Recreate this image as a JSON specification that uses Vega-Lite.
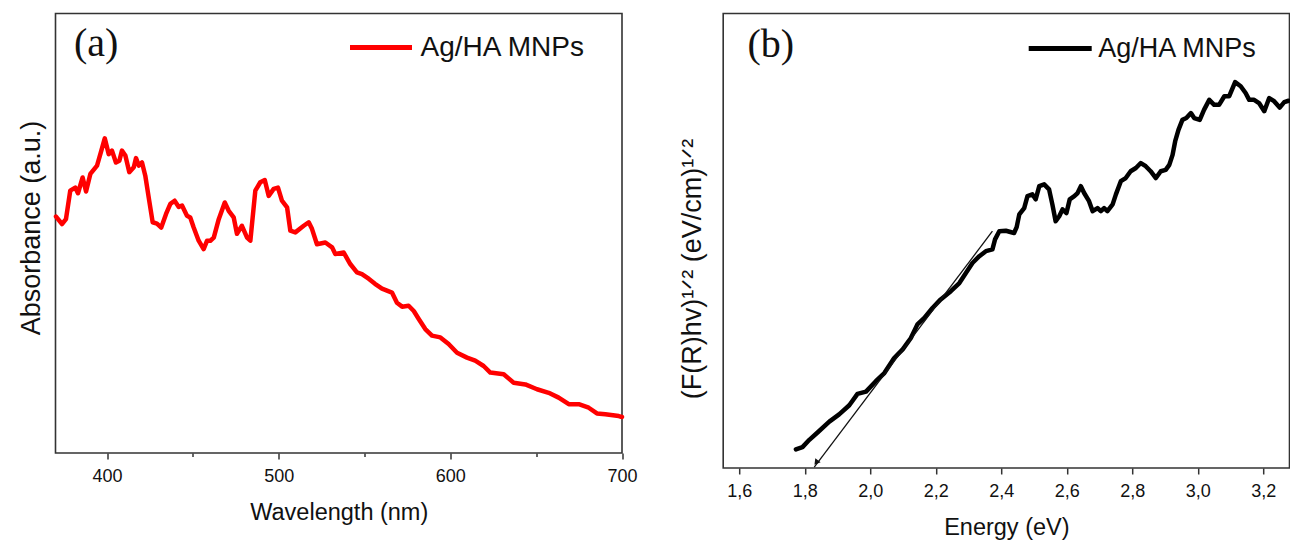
{
  "$schema": "https://vega.github.io/schema/vega-lite/v6.json",
  "background": "white",
  "padding": {"left": 16.5, "top": 12.5, "right": 2, "bottom": 0},
  "bounds": "flush",
  "spacing": 100.7,
  "resolve": {"scale": {"color": "independent"}, "legend": {"color": "independent"}},
  "config": {
    "view": {"stroke": "#333", "strokeWidth": 1.6},
    "font": "Liberation Sans",
    "axis": {"grid": false, "domain": false, "labelFontSize": 18, "labelColor": "#111", "titleFontSize": 23.5, "titleFontWeight": "normal", "titleColor": "#111", "tickColor": "#333", "tickWidth": 1.5, "labelPadding": 8, "titlePadding": 15, "labelFlush": false},
    "axisY": {"labels": false, "ticks": false, "titleFontSize": 27}
  },
  "datasets": {
    "abs": [
      {"wavelength": 370.3, "absorbance": 53.8, "series": "Ag/HA MNPs"},
      {"wavelength": 373.8, "absorbance": 52.1, "series": "Ag/HA MNPs"},
      {"wavelength": 376.1, "absorbance": 53.2, "series": "Ag/HA MNPs"},
      {"wavelength": 378.6, "absorbance": 59.7, "series": "Ag/HA MNPs"},
      {"wavelength": 381.5, "absorbance": 60.4, "series": "Ag/HA MNPs"},
      {"wavelength": 383.1, "absorbance": 59.1, "series": "Ag/HA MNPs"},
      {"wavelength": 385.8, "absorbance": 62.7, "series": "Ag/HA MNPs"},
      {"wavelength": 387.8, "absorbance": 59.5, "series": "Ag/HA MNPs"},
      {"wavelength": 390.3, "absorbance": 63.5, "series": "Ag/HA MNPs"},
      {"wavelength": 394.2, "absorbance": 65.4, "series": "Ag/HA MNPs"},
      {"wavelength": 396.7, "absorbance": 68.8, "series": "Ag/HA MNPs"},
      {"wavelength": 398.7, "absorbance": 71.6, "series": "Ag/HA MNPs"},
      {"wavelength": 401.0, "absorbance": 68.0, "series": "Ag/HA MNPs"},
      {"wavelength": 402.9, "absorbance": 68.8, "series": "Ag/HA MNPs"},
      {"wavelength": 405.2, "absorbance": 66.1, "series": "Ag/HA MNPs"},
      {"wavelength": 407.2, "absorbance": 66.5, "series": "Ag/HA MNPs"},
      {"wavelength": 408.7, "absorbance": 68.8, "series": "Ag/HA MNPs"},
      {"wavelength": 410.7, "absorbance": 67.7, "series": "Ag/HA MNPs"},
      {"wavelength": 413.0, "absorbance": 63.9, "series": "Ag/HA MNPs"},
      {"wavelength": 415.6, "absorbance": 65.0, "series": "Ag/HA MNPs"},
      {"wavelength": 416.9, "absorbance": 67.1, "series": "Ag/HA MNPs"},
      {"wavelength": 418.5, "absorbance": 65.4, "series": "Ag/HA MNPs"},
      {"wavelength": 420.4, "absorbance": 66.1, "series": "Ag/HA MNPs"},
      {"wavelength": 422.3, "absorbance": 63.1, "series": "Ag/HA MNPs"},
      {"wavelength": 424.6, "absorbance": 57.4, "series": "Ag/HA MNPs"},
      {"wavelength": 426.6, "absorbance": 52.5, "series": "Ag/HA MNPs"},
      {"wavelength": 429.1, "absorbance": 52.2, "series": "Ag/HA MNPs"},
      {"wavelength": 431.6, "absorbance": 51.3, "series": "Ag/HA MNPs"},
      {"wavelength": 434.4, "absorbance": 54.4, "series": "Ag/HA MNPs"},
      {"wavelength": 436.9, "absorbance": 56.7, "series": "Ag/HA MNPs"},
      {"wavelength": 439.4, "absorbance": 57.4, "series": "Ag/HA MNPs"},
      {"wavelength": 441.8, "absorbance": 56.0, "series": "Ag/HA MNPs"},
      {"wavelength": 443.7, "absorbance": 56.3, "series": "Ag/HA MNPs"},
      {"wavelength": 446.6, "absorbance": 54.0, "series": "Ag/HA MNPs"},
      {"wavelength": 448.5, "absorbance": 53.6, "series": "Ag/HA MNPs"},
      {"wavelength": 450.5, "absorbance": 51.3, "series": "Ag/HA MNPs"},
      {"wavelength": 453.4, "absorbance": 48.3, "series": "Ag/HA MNPs"},
      {"wavelength": 456.3, "absorbance": 46.4, "series": "Ag/HA MNPs"},
      {"wavelength": 458.3, "absorbance": 48.3, "series": "Ag/HA MNPs"},
      {"wavelength": 460.2, "absorbance": 48.3, "series": "Ag/HA MNPs"},
      {"wavelength": 462.2, "absorbance": 49.0, "series": "Ag/HA MNPs"},
      {"wavelength": 465.1, "absorbance": 53.2, "series": "Ag/HA MNPs"},
      {"wavelength": 468.6, "absorbance": 57.0, "series": "Ag/HA MNPs"},
      {"wavelength": 470.9, "absorbance": 55.1, "series": "Ag/HA MNPs"},
      {"wavelength": 473.8, "absorbance": 53.6, "series": "Ag/HA MNPs"},
      {"wavelength": 475.7, "absorbance": 49.9, "series": "Ag/HA MNPs"},
      {"wavelength": 478.6, "absorbance": 51.7, "series": "Ag/HA MNPs"},
      {"wavelength": 481.6, "absorbance": 49.0, "series": "Ag/HA MNPs"},
      {"wavelength": 483.5, "absorbance": 48.3, "series": "Ag/HA MNPs"},
      {"wavelength": 486.4, "absorbance": 59.7, "series": "Ag/HA MNPs"},
      {"wavelength": 489.3, "absorbance": 61.6, "series": "Ag/HA MNPs"},
      {"wavelength": 491.9, "absorbance": 62.1, "series": "Ag/HA MNPs"},
      {"wavelength": 494.2, "absorbance": 58.5, "series": "Ag/HA MNPs"},
      {"wavelength": 497.1, "absorbance": 60.1, "series": "Ag/HA MNPs"},
      {"wavelength": 499.6, "absorbance": 60.4, "series": "Ag/HA MNPs"},
      {"wavelength": 501.9, "absorbance": 57.4, "series": "Ag/HA MNPs"},
      {"wavelength": 504.9, "absorbance": 55.9, "series": "Ag/HA MNPs"},
      {"wavelength": 506.8, "absorbance": 50.6, "series": "Ag/HA MNPs"},
      {"wavelength": 509.7, "absorbance": 50.2, "series": "Ag/HA MNPs"},
      {"wavelength": 514.6, "absorbance": 51.7, "series": "Ag/HA MNPs"},
      {"wavelength": 517.5, "absorbance": 52.5, "series": "Ag/HA MNPs"},
      {"wavelength": 519.4, "absorbance": 51.0, "series": "Ag/HA MNPs"},
      {"wavelength": 522.3, "absorbance": 47.5, "series": "Ag/HA MNPs"},
      {"wavelength": 527.2, "absorbance": 47.9, "series": "Ag/HA MNPs"},
      {"wavelength": 531.1, "absorbance": 46.8, "series": "Ag/HA MNPs"},
      {"wavelength": 533.0, "absorbance": 45.3, "series": "Ag/HA MNPs"},
      {"wavelength": 537.9, "absorbance": 45.6, "series": "Ag/HA MNPs"},
      {"wavelength": 541.7, "absorbance": 43.0, "series": "Ag/HA MNPs"},
      {"wavelength": 545.6, "absorbance": 41.1, "series": "Ag/HA MNPs"},
      {"wavelength": 548.5, "absorbance": 40.7, "series": "Ag/HA MNPs"},
      {"wavelength": 552.6, "absorbance": 39.6, "series": "Ag/HA MNPs"},
      {"wavelength": 556.1, "absorbance": 38.5, "series": "Ag/HA MNPs"},
      {"wavelength": 560.2, "absorbance": 37.4, "series": "Ag/HA MNPs"},
      {"wavelength": 566.0, "absorbance": 36.5, "series": "Ag/HA MNPs"},
      {"wavelength": 568.9, "absorbance": 34.2, "series": "Ag/HA MNPs"},
      {"wavelength": 571.9, "absorbance": 33.3, "series": "Ag/HA MNPs"},
      {"wavelength": 575.7, "absorbance": 33.5, "series": "Ag/HA MNPs"},
      {"wavelength": 578.7, "absorbance": 32.3, "series": "Ag/HA MNPs"},
      {"wavelength": 581.6, "absorbance": 30.5, "series": "Ag/HA MNPs"},
      {"wavelength": 585.4, "absorbance": 28.2, "series": "Ag/HA MNPs"},
      {"wavelength": 589.3, "absorbance": 26.7, "series": "Ag/HA MNPs"},
      {"wavelength": 594.2, "absorbance": 26.3, "series": "Ag/HA MNPs"},
      {"wavelength": 599.0, "absorbance": 24.8, "series": "Ag/HA MNPs"},
      {"wavelength": 603.9, "absorbance": 22.8, "series": "Ag/HA MNPs"},
      {"wavelength": 609.7, "absorbance": 21.7, "series": "Ag/HA MNPs"},
      {"wavelength": 614.5, "absorbance": 21.0, "series": "Ag/HA MNPs"},
      {"wavelength": 619.4, "absorbance": 19.8, "series": "Ag/HA MNPs"},
      {"wavelength": 623.3, "absorbance": 18.3, "series": "Ag/HA MNPs"},
      {"wavelength": 631.1, "absorbance": 17.9, "series": "Ag/HA MNPs"},
      {"wavelength": 636.9, "absorbance": 16.0, "series": "Ag/HA MNPs"},
      {"wavelength": 643.7, "absorbance": 15.6, "series": "Ag/HA MNPs"},
      {"wavelength": 650.5, "absorbance": 14.5, "series": "Ag/HA MNPs"},
      {"wavelength": 657.3, "absorbance": 13.7, "series": "Ag/HA MNPs"},
      {"wavelength": 663.1, "absorbance": 12.6, "series": "Ag/HA MNPs"},
      {"wavelength": 669.0, "absorbance": 11.1, "series": "Ag/HA MNPs"},
      {"wavelength": 674.8, "absorbance": 11.1, "series": "Ag/HA MNPs"},
      {"wavelength": 680.6, "absorbance": 10.3, "series": "Ag/HA MNPs"},
      {"wavelength": 685.4, "absorbance": 9.0, "series": "Ag/HA MNPs"},
      {"wavelength": 690.3, "absorbance": 8.8, "series": "Ag/HA MNPs"},
      {"wavelength": 698.1, "absorbance": 8.4, "series": "Ag/HA MNPs"},
      {"wavelength": 700.0, "absorbance": 8.2, "series": "Ag/HA MNPs"}
    ],
    "tauc": [
      {"energy": 1.773, "value": 4.1, "series": "Ag/HA MNPs"},
      {"energy": 1.793, "value": 4.6, "series": "Ag/HA MNPs"},
      {"energy": 1.814, "value": 6.2, "series": "Ag/HA MNPs"},
      {"energy": 1.839, "value": 7.8, "series": "Ag/HA MNPs"},
      {"energy": 1.875, "value": 10.2, "series": "Ag/HA MNPs"},
      {"energy": 1.905, "value": 11.8, "series": "Ag/HA MNPs"},
      {"energy": 1.936, "value": 13.8, "series": "Ag/HA MNPs"},
      {"energy": 1.961, "value": 16.3, "series": "Ag/HA MNPs"},
      {"energy": 1.987, "value": 16.8, "series": "Ag/HA MNPs"},
      {"energy": 2.017, "value": 19.1, "series": "Ag/HA MNPs"},
      {"energy": 2.043, "value": 20.9, "series": "Ag/HA MNPs"},
      {"energy": 2.073, "value": 24.2, "series": "Ag/HA MNPs"},
      {"energy": 2.099, "value": 26.1, "series": "Ag/HA MNPs"},
      {"energy": 2.124, "value": 28.6, "series": "Ag/HA MNPs"},
      {"energy": 2.144, "value": 31.6, "series": "Ag/HA MNPs"},
      {"energy": 2.165, "value": 33.0, "series": "Ag/HA MNPs"},
      {"energy": 2.190, "value": 35.2, "series": "Ag/HA MNPs"},
      {"energy": 2.215, "value": 37.1, "series": "Ag/HA MNPs"},
      {"energy": 2.246, "value": 38.9, "series": "Ag/HA MNPs"},
      {"energy": 2.272, "value": 40.7, "series": "Ag/HA MNPs"},
      {"energy": 2.292, "value": 42.9, "series": "Ag/HA MNPs"},
      {"energy": 2.312, "value": 45.1, "series": "Ag/HA MNPs"},
      {"energy": 2.333, "value": 46.6, "series": "Ag/HA MNPs"},
      {"energy": 2.353, "value": 47.7, "series": "Ag/HA MNPs"},
      {"energy": 2.373, "value": 48.1, "series": "Ag/HA MNPs"},
      {"energy": 2.381, "value": 50.3, "series": "Ag/HA MNPs"},
      {"energy": 2.394, "value": 52.1, "series": "Ag/HA MNPs"},
      {"energy": 2.414, "value": 52.2, "series": "Ag/HA MNPs"},
      {"energy": 2.439, "value": 51.7, "series": "Ag/HA MNPs"},
      {"energy": 2.447, "value": 53.0, "series": "Ag/HA MNPs"},
      {"energy": 2.455, "value": 55.8, "series": "Ag/HA MNPs"},
      {"energy": 2.470, "value": 57.2, "series": "Ag/HA MNPs"},
      {"energy": 2.480, "value": 59.8, "series": "Ag/HA MNPs"},
      {"energy": 2.495, "value": 60.2, "series": "Ag/HA MNPs"},
      {"energy": 2.505, "value": 59.1, "series": "Ag/HA MNPs"},
      {"energy": 2.516, "value": 62.0, "series": "Ag/HA MNPs"},
      {"energy": 2.531, "value": 62.4, "series": "Ag/HA MNPs"},
      {"energy": 2.546, "value": 61.3, "series": "Ag/HA MNPs"},
      {"energy": 2.556, "value": 58.0, "series": "Ag/HA MNPs"},
      {"energy": 2.566, "value": 54.3, "series": "Ag/HA MNPs"},
      {"energy": 2.577, "value": 55.4, "series": "Ag/HA MNPs"},
      {"energy": 2.587, "value": 56.9, "series": "Ag/HA MNPs"},
      {"energy": 2.599, "value": 56.1, "series": "Ag/HA MNPs"},
      {"energy": 2.609, "value": 59.1, "series": "Ag/HA MNPs"},
      {"energy": 2.623, "value": 59.8, "series": "Ag/HA MNPs"},
      {"energy": 2.633, "value": 60.5, "series": "Ag/HA MNPs"},
      {"energy": 2.643, "value": 62.0, "series": "Ag/HA MNPs"},
      {"energy": 2.653, "value": 60.5, "series": "Ag/HA MNPs"},
      {"energy": 2.668, "value": 58.7, "series": "Ag/HA MNPs"},
      {"energy": 2.679, "value": 56.5, "series": "Ag/HA MNPs"},
      {"energy": 2.694, "value": 57.2, "series": "Ag/HA MNPs"},
      {"energy": 2.704, "value": 56.5, "series": "Ag/HA MNPs"},
      {"energy": 2.714, "value": 57.2, "series": "Ag/HA MNPs"},
      {"energy": 2.724, "value": 56.5, "series": "Ag/HA MNPs"},
      {"energy": 2.740, "value": 58.0, "series": "Ag/HA MNPs"},
      {"energy": 2.750, "value": 60.2, "series": "Ag/HA MNPs"},
      {"energy": 2.765, "value": 63.1, "series": "Ag/HA MNPs"},
      {"energy": 2.780, "value": 63.8, "series": "Ag/HA MNPs"},
      {"energy": 2.795, "value": 65.3, "series": "Ag/HA MNPs"},
      {"energy": 2.811, "value": 66.0, "series": "Ag/HA MNPs"},
      {"energy": 2.826, "value": 67.1, "series": "Ag/HA MNPs"},
      {"energy": 2.841, "value": 66.4, "series": "Ag/HA MNPs"},
      {"energy": 2.856, "value": 65.3, "series": "Ag/HA MNPs"},
      {"energy": 2.872, "value": 63.8, "series": "Ag/HA MNPs"},
      {"energy": 2.887, "value": 65.3, "series": "Ag/HA MNPs"},
      {"energy": 2.902, "value": 65.6, "series": "Ag/HA MNPs"},
      {"energy": 2.913, "value": 66.7, "series": "Ag/HA MNPs"},
      {"energy": 2.923, "value": 68.9, "series": "Ag/HA MNPs"},
      {"energy": 2.931, "value": 71.9, "series": "Ag/HA MNPs"},
      {"energy": 2.941, "value": 74.4, "series": "Ag/HA MNPs"},
      {"energy": 2.953, "value": 76.6, "series": "Ag/HA MNPs"},
      {"energy": 2.965, "value": 77.0, "series": "Ag/HA MNPs"},
      {"energy": 2.979, "value": 78.1, "series": "Ag/HA MNPs"},
      {"energy": 2.989, "value": 77.0, "series": "Ag/HA MNPs"},
      {"energy": 3.006, "value": 76.6, "series": "Ag/HA MNPs"},
      {"energy": 3.019, "value": 78.8, "series": "Ag/HA MNPs"},
      {"energy": 3.035, "value": 81.0, "series": "Ag/HA MNPs"},
      {"energy": 3.050, "value": 79.9, "series": "Ag/HA MNPs"},
      {"energy": 3.065, "value": 79.9, "series": "Ag/HA MNPs"},
      {"energy": 3.081, "value": 81.8, "series": "Ag/HA MNPs"},
      {"energy": 3.096, "value": 81.8, "series": "Ag/HA MNPs"},
      {"energy": 3.114, "value": 84.9, "series": "Ag/HA MNPs"},
      {"energy": 3.131, "value": 84.0, "series": "Ag/HA MNPs"},
      {"energy": 3.146, "value": 82.5, "series": "Ag/HA MNPs"},
      {"energy": 3.157, "value": 81.0, "series": "Ag/HA MNPs"},
      {"energy": 3.172, "value": 81.0, "series": "Ag/HA MNPs"},
      {"energy": 3.187, "value": 80.3, "series": "Ag/HA MNPs"},
      {"energy": 3.203, "value": 78.5, "series": "Ag/HA MNPs"},
      {"energy": 3.218, "value": 81.4, "series": "Ag/HA MNPs"},
      {"energy": 3.233, "value": 80.7, "series": "Ag/HA MNPs"},
      {"energy": 3.250, "value": 79.3, "series": "Ag/HA MNPs"},
      {"energy": 3.264, "value": 80.5, "series": "Ag/HA MNPs"},
      {"energy": 3.277, "value": 80.8, "series": "Ag/HA MNPs"}
    ],
    "tangent": [
      {"energy": 2.373, "value": 52.1},
      {"energy": 1.829, "value": 0.2}
    ],
    "arrowhead": [
      {"energy": 1.835, "value": 1.2}
    ],
    "labelA": [{"label": "(a)"}],
    "labelB": [{"label": "(b)"}]
  },
  "hconcat": [
    {
      "width": 566.5,
      "height": 439.5,
      "layer": [
        {
          "data": {"name": "abs"},
          "mark": {"type": "line", "strokeWidth": 4.5, "strokeJoin": "round", "strokeCap": "round"},
          "encoding": {
            "x": {"field": "wavelength", "type": "quantitative", "title": "Wavelength (nm)",
              "scale": {"domain": [370, 700], "nice": false, "zero": false},
              "axis": {"values": [400, 450, 500, 550, 600, 650, 700],
                "tickSize": {"condition": {"test": "datum.value % 100 != 0", "value": 3.5}, "value": 6},
                "labelExpr": "datum.value % 100 == 0 ? datum.label : ''"}},
            "y": {"field": "absorbance", "type": "quantitative", "title": "Absorbance (a.u.)",
              "scale": {"domain": [0, 100], "nice": false, "zero": false},
              "axis": {"titlePadding": 10, "titleY": 214}},
            "color": {"field": "series", "type": "nominal",
              "scale": {"domain": ["Ag/HA MNPs"], "range": ["#ff0000"]},
              "legend": {"orient": "none", "legendX": 292, "legendY": 0.5, "title": null, "symbolType": "stroke", "symbolSize": 3844, "symbolStrokeWidth": 5, "labelFontSize": 28, "labelFont": "Liberation Sans", "labelColor": "#111", "labelOffset": 6, "padding": 0, "labelLimit": 400}}
          }
        },
        {
          "data": {"name": "labelA"},
          "mark": {"type": "text", "font": "Liberation Serif", "fontSize": 40, "color": "#111", "align": "left", "baseline": "alphabetic"},
          "encoding": {
            "text": {"field": "label"},
            "x": {"datum": 380.8, "type": "quantitative"},
            "y": {"datum": 90.4, "type": "quantitative"}
          }
        }
      ]
    },
    {
      "width": 566.3,
      "height": 454.5,
      "layer": [
        {
          "data": {"name": "tauc"},
          "mark": {"type": "line", "strokeWidth": 4.5, "strokeJoin": "round", "strokeCap": "round"},
          "encoding": {
            "x": {"field": "energy", "type": "quantitative", "title": "Energy (eV)",
              "scale": {"domain": [1.551, 3.28], "nice": false, "zero": false},
              "axis": {"values": [1.6, 1.7, 1.8, 1.9, 2.0, 2.1, 2.2, 2.3, 2.4, 2.5, 2.6, 2.7, 2.8, 2.9, 3.0, 3.1, 3.2],
                "tickSize": {"condition": {"test": "round(datum.value * 10) % 2 == 1", "value": 3.5}, "value": 6},
                "labelExpr": "round(datum.value * 10) % 2 == 0 ? replace(format(datum.value, '.1f'), '.', ',') : ''"}},
            "y": {"field": "value", "type": "quantitative", "title": "(F(R)hv)¹ᐟ² (eV/cm)¹ᐟ²",
              "scale": {"domain": [0, 100], "nice": false, "zero": false},
              "axis": {"titlePadding": 17, "titleY": 255}},
            "color": {"field": "series", "type": "nominal",
              "scale": {"domain": ["Ag/HA MNPs"], "range": ["#000000"]},
              "legend": {"orient": "none", "legendX": 303, "legendY": 1, "title": null, "symbolType": "stroke", "symbolSize": 3969, "symbolStrokeWidth": 5, "labelFontSize": 27, "labelFont": "Liberation Sans", "labelColor": "#111", "labelOffset": 4, "padding": 0, "labelLimit": 400}}
          }
        },
        {
          "data": {"name": "tangent"},
          "mark": {"type": "line", "color": "#111", "strokeWidth": 1.3},
          "encoding": {
            "x": {"field": "energy", "type": "quantitative"},
            "y": {"field": "value", "type": "quantitative"}
          }
        },
        {
          "data": {"name": "arrowhead"},
          "mark": {"type": "point", "shape": "triangle-down", "filled": true, "color": "#111", "size": 45, "angle": 37, "opacity": 1},
          "encoding": {
            "x": {"field": "energy", "type": "quantitative"},
            "y": {"field": "value", "type": "quantitative"}
          }
        },
        {
          "data": {"name": "labelB"},
          "mark": {"type": "text", "font": "Liberation Serif", "fontSize": 40, "color": "#111", "align": "left", "baseline": "alphabetic"},
          "encoding": {
            "text": {"field": "label"},
            "x": {"datum": 1.625, "type": "quantitative"},
            "y": {"datum": 90.5, "type": "quantitative"}
          }
        }
      ]
    }
  ]
}
